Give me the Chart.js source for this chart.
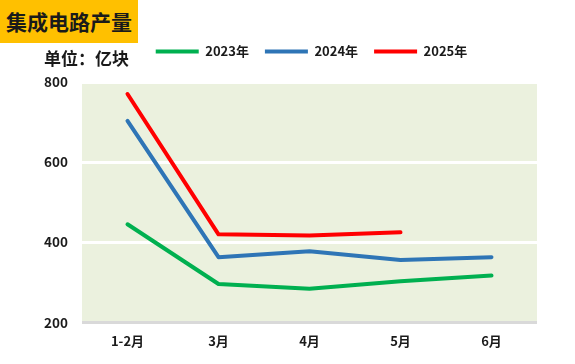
<!DOCTYPE html>
<html>
<head>
<meta charset="utf-8">
<script src="https://cdn.jsdelivr.net/npm/chart.js@4/dist/chart.umd.min.js"></script>
<style>
  html, body { margin: 0; padding: 0; background: #ffffff; }
  #wrap { position: relative; width: 575px; height: 364px; overflow: hidden; }
  #c { position: absolute; left: 0; top: 0; }
  #title { position: absolute; left: 0; top: 0; width: 138px; height: 43px; background: #FFC000;
    font-family: "Noto Sans CJK SC", sans-serif; font-weight: bold; font-size: 21px; color: #1a1a1a;
    line-height: 43px; text-align: center; }
  #unit { position: absolute; left: 44px; top: 46px; font-family: "Noto Sans CJK SC", sans-serif;
    font-weight: bold; font-size: 17px; color: #1a1a1a; line-height: 24px; }
</style>
</head>
<body>
<div id="wrap">
  <canvas id="c" width="575" height="364"></canvas>
  <div id="title">集成电路产量</div>
  <div id="unit">单位：亿块</div>
</div>
<script>
const categories = ["1-2月", "3月", "4月", "5月", "6月"];
const seriesNames = ["2023年", "2024年", "2025年"];
const values2023 = [445, 296, 284, 303, 317];
const values2024 = [703, 363, 378, 356, 363];
const values2025 = [770, 420, 417, 425, null];
const yTicks = [200, 400, 600, 800];

const FONT = '"Noto Sans CJK SC", sans-serif';
const colors = ["#00B050", "#2E75B6", "#FF0000"];

const bgPlugin = {
  id: 'plotBg',
  beforeDraw(chart) {
    const a = chart.chartArea, ctx = chart.ctx;
    ctx.save();
    ctx.fillStyle = '#EBF1DE';
    ctx.fillRect(a.left, a.top, a.right - a.left, a.bottom - a.top);
    ctx.restore();
  }
};
const legendShift = {
  id: 'legendShift',
  afterLayout(chart) {
    const lg = chart.legend;
    if (!lg) return;
    const dx = 43, dy = -14;
    lg.left += dx; lg.right += dx;
    lg.top += dy; lg.bottom += dy;
  }
};

const allSeries = [values2023, values2024, values2025];
new Chart(document.getElementById('c'), {
  type: 'line',
  data: {
    labels: categories,
    datasets: seriesNames.map((n, i) => ({
      label: n,
      data: allSeries[i],
      borderColor: colors[i],
      backgroundColor: colors[i],
      borderWidth: 4,
      pointRadius: 0,
      tension: 0,
      borderCapStyle: 'round',
      borderJoinStyle: 'round',
      spanGaps: false
    }))
  },
  options: {
    responsive: false,
    animation: false,
    layout: { padding: { left: 0, right: 38, top: 43, bottom: 0 } },
    plugins: {
      legend: {
        position: 'top',
        labels: {
          boxWidth: 43,
          boxHeight: 4,
          padding: 16,
          useBorderRadius: true,
          borderRadius: 2,
          color: '#1a1a1a',
          font: { family: FONT, size: 13, weight: 'bold' },
          generateLabels(chart) {
            return chart.data.datasets.map((ds, i) => ({
              text: ds.label,
              fillStyle: ds.borderColor,
              strokeStyle: ds.borderColor,
              lineWidth: 0,
              fontColor: '#1a1a1a',
              hidden: false,
              datasetIndex: i
            }));
          }
        }
      },
      tooltip: { enabled: false }
    },
    scales: {
      x: {
        offset: true,
        grid: { display: false, drawTicks: false },
        border: { display: false },
        ticks: { color: '#1a1a1a', padding: 11, font: { family: FONT, size: 13, weight: 'bold' } },
        afterFit(s) { s.height = 41.5; }
      },
      y: {
        min: 200, max: 800,
        afterBuildTicks(s) { s.ticks = yTicks.map(v => ({ value: v })); },
        grid: {
          drawTicks: false,
          lineWidth: 3,
          color: (c) => (c.tick && c.tick.value === 200) ? '#D9D9D9' : '#FFFFFF'
        },
        border: { display: false },
        ticks: { color: '#1a1a1a', padding: 14, font: { family: FONT, size: 13.5, weight: 'bold' } },
        afterFit(s) { s.width = 82; }
      }
    }
  },
  plugins: [bgPlugin, legendShift]
});
</script>
</body>
</html>
